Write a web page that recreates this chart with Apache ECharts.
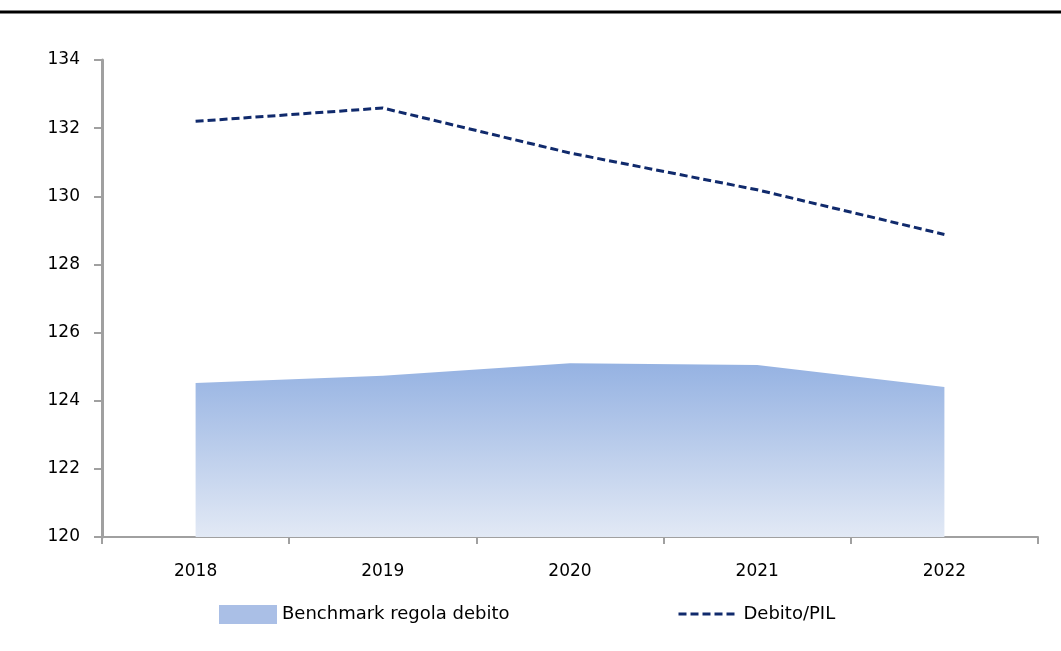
<!DOCTYPE html>
<html>
<head>
<meta charset="utf-8">
<script src="https://cdn.jsdelivr.net/npm/echarts@6/dist/echarts.min.js"></script>
<style>html,body{margin:0;padding:0;background:#fff;}#c{width:1061px;height:651px;}</style>
</head>
<body>
<div id="c"></div>
<script>
const categories = ['2018', '2019', '2020', '2021', '2022'];
const benchmark = [124.52, 124.73, 125.1, 125.05, 124.4];
const debitoPil = [132.2, 132.59, 131.27, 130.19, 128.88];
const yTicks = { min: 120, max: 134, interval: 2 };

const chart = echarts.init(document.getElementById('c'), null, { renderer: 'canvas' });
const font = "'DejaVu Sans', Verdana, sans-serif";
chart.setOption({
  animation: false,
  backgroundColor: '#ffffff',
  grid: { left: 102, right: 23, top: 60, bottom: 114, containLabel: false },
  graphic: [{
    type: 'line', shape: { x1: 0, y1: 12, x2: 1061, y2: 12 },
    style: { stroke: '#000', lineWidth: 3 }, silent: true
  }],
  legend: [{
    left: 214, top: 600, itemWidth: 58, itemHeight: 19, itemGap: 7,
    data: [{ name: 'Benchmark regola debito', icon: 'rect' }],
    itemStyle: { color: '#aabfe6' },
    textStyle: { fontFamily: font, fontSize: 18, color: '#000' }
  }, {
    left: 672, top: 600, itemWidth: 60, itemHeight: 19, itemGap: 4,
    data: [{ name: 'Debito/PIL' }],
    itemStyle: { opacity: 0 },
    lineStyle: { width: 3, type: [8, 4], color: '#102a6c' },
    textStyle: { fontFamily: font, fontSize: 18, color: '#000' }
  }],
  xAxis: {
    type: 'category', data: categories, boundaryGap: true,
    axisLine: { lineStyle: { color: '#a0a0a0', width: 2 } },
    axisTick: { show: true, length: 7, lineStyle: { color: '#a0a0a0', width: 2 } },
    axisLabel: { color: '#000', fontFamily: font, fontSize: 17, margin: 26 }
  },
  yAxis: {
    type: 'value', min: yTicks.min, max: yTicks.max, interval: yTicks.interval,
    axisLine: { show: true, lineStyle: { color: '#a0a0a0', width: 3 } },
    axisTick: { show: true, length: 8, lineStyle: { color: '#a0a0a0', width: 2 } },
    splitLine: { show: false },
    axisLabel: { color: '#000', fontFamily: font, fontSize: 17, margin: 22 }
  },
  series: [{
    name: 'Benchmark regola debito', type: 'line', data: benchmark,
    symbol: 'none', lineStyle: { width: 0, color: '#97b3e2' },
    itemStyle: { color: '#a6bde6' },
    areaStyle: {
      origin: 'start',
      color: new echarts.graphic.LinearGradient(0, 0, 0, 1, [
        { offset: 0, color: '#95b2e2' },
        { offset: 1, color: '#e2e9f5' }
      ]),
      opacity: 1
    }
  }, {
    name: 'Debito/PIL', type: 'line', data: debitoPil,
    symbol: 'none',
    lineStyle: { color: '#102a6c', width: 3, type: [8, 4] },
    itemStyle: { color: '#102a6c' }
  }]
});
</script>
</body>
</html>
